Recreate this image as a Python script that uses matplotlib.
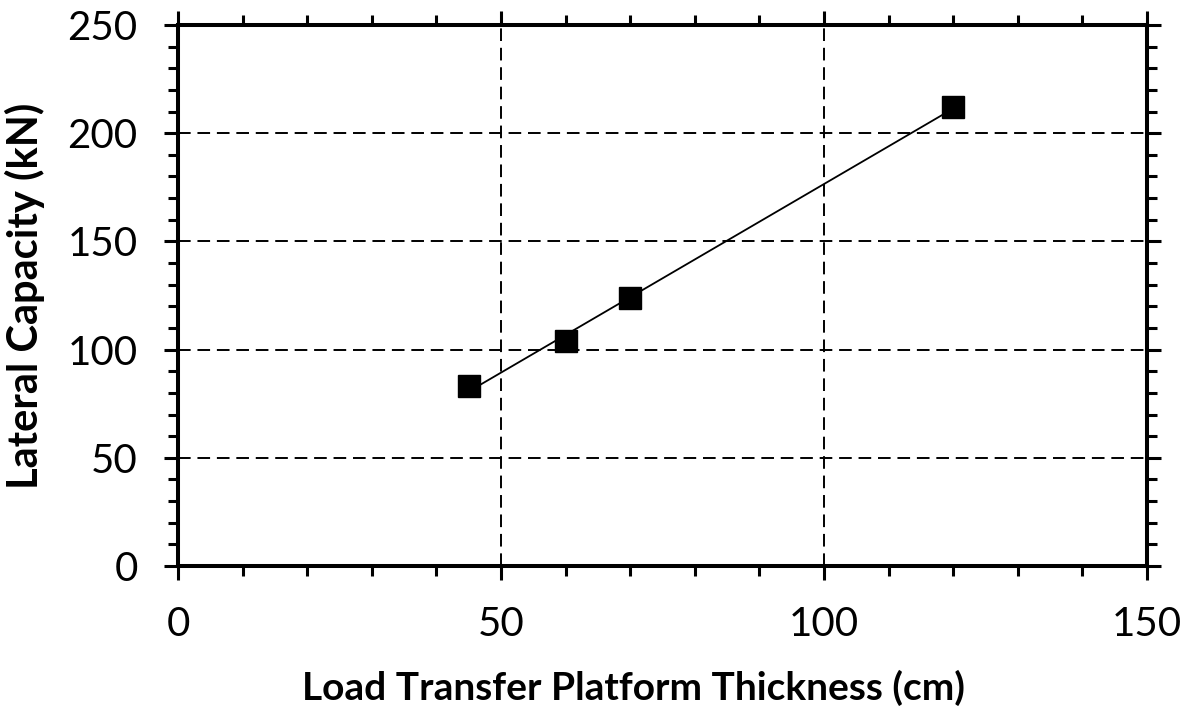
import numpy as np
import matplotlib
matplotlib.use('Agg')
import matplotlib.pyplot as plt
from matplotlib.ticker import MultipleLocator

# LTP thickness vs lateral capacity
thickness = [45, 60, 70, 120]
capacity = [83, 104, 124, 212]

x_ticks = [0, 50, 100, 150]
y_ticks = [0, 50, 100, 150, 200, 250]

plt.rcParams['font.family'] = ['Lato', 'DejaVu Sans']

fig = plt.figure(figsize=(11.92, 7.17), dpi=100)
ax = fig.add_axes([0.1493, 0.2106, 0.8129, 0.7545])

# linear trendline through the points
slope, intercept = np.polyfit(thickness, capacity, 1)
x_fit = np.array([min(thickness), max(thickness)])
ax.plot(x_fit, slope * x_fit + intercept, color='black', linewidth=1.3, zorder=3)
ax.plot(thickness, capacity, linestyle='none', marker='s', markersize=16,
        color='black', zorder=4)

ax.set_xlim(0, 150)
ax.set_ylim(0, 250)
ax.set_xticks(x_ticks)
ax.set_yticks(y_ticks)
ax.xaxis.set_minor_locator(MultipleLocator(10))
ax.yaxis.set_minor_locator(MultipleLocator(10))

# dashed grid at inner majors only
for xv in x_ticks[1:-1]:
    ax.axvline(xv, color='black', linewidth=1.4, linestyle=(0, (6.5, 3.5)), zorder=1)
for yv in y_ticks[1:-1]:
    ax.axhline(yv, color='black', linewidth=1.4, linestyle=(0, (6.5, 3.5)), zorder=1)

for s in ax.spines.values():
    s.set_linewidth(2.9)

ax.tick_params(which='both', direction='out', top=True, right=True, width=2.2,
               labelsize=29, colors='black')
ax.tick_params(which='major', length=10, pad=19)
ax.tick_params(which='minor', length=7)

ax.set_xlabel('Load Transfer Platform Thickness (cm)', fontsize=28, fontweight='bold', labelpad=19)
ax.xaxis.label.set_x(0.47)
ax.set_ylabel('Lateral Capacity (kN)', fontsize=30, fontweight='bold', labelpad=16)

fig.savefig('out.png', dpi=100)
